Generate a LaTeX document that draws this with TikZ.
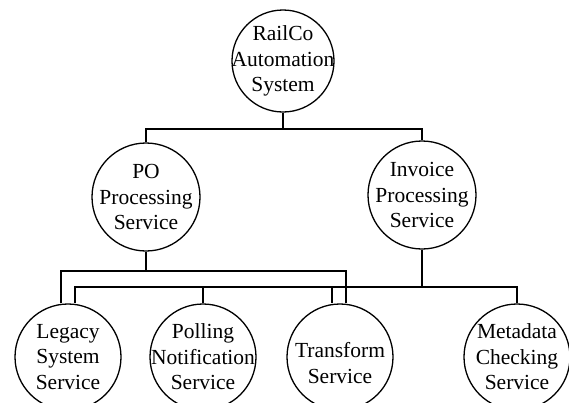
\documentclass[tikz,border=0pt]{standalone}
\usepackage{fontspec}
\setmainfont{Liberation Serif}
\begin{document}
\begin{tikzpicture}[x=1pt,y=-1pt,
  svc/.style={draw, circle, line width=1.3pt, inner sep=0pt},
  txt/.style={align=center, inner sep=0pt, font=\fontsize{21.5}{25.5}\selectfont},
  conn/.style={line width=1.3pt}]
\useasboundingbox (0,0) rectangle (569,402);
\node[svc, minimum size=102pt, label={[txt]center:RailCo\\Automation\\System}] (root) at (283,61) {};
\node[svc, minimum size=108pt, label={[txt]center:PO\\Processing\\Service}] (po) at (146,197) {};
\node[svc, minimum size=108pt, label={[txt]center:Invoice\\Processing\\Service}] (inv) at (422,195) {};
\node[svc, minimum size=106pt, label={[txt]center:Legacy\\System\\Service}] (legacy) at (68,357) {};
\node[svc, minimum size=106pt, label={[txt]center:Polling\\Notification\\Service}] (poll) at (203,357) {};
\node[svc, minimum size=106pt, label={[txt,yshift=-6pt]center:Transform\\Service}] (trans) at (340,357) {};
\node[svc, minimum size=106pt, label={[txt]center:Metadata\\Checking\\Service}] (meta) at (517,357) {};
\coordinate (b0) at (0,129);
\coordinate (b1) at (0,271);
\coordinate (b2) at (0,287);
% top level
\draw[conn] (root.south) -- (root.south |- b0);
\draw[conn] (po.north) -- (po.north |- b0) -- (inv.north |- b0) -- (inv.north);
% PO children
\draw[conn] (po.south) -- (po.south |- b1);
\draw[conn] ([xshift=-7pt]legacy.north) -- ([xshift=-7pt]legacy.north |- b1) -- ([xshift=6pt]trans.north |- b1) -- ([xshift=6pt]trans.north);
% Invoice children
\draw[conn] (inv.south) -- (inv.south |- b2);
\draw[conn] ([xshift=7pt]legacy.north) -- ([xshift=7pt]legacy.north |- b2) -- (meta.north |- b2) -- (meta.north);
\draw[conn] (poll.north) -- (poll.north |- b2);
\draw[conn] ([xshift=-8pt]trans.north) -- ([xshift=-8pt]trans.north |- b2);
\end{tikzpicture}
\end{document}
